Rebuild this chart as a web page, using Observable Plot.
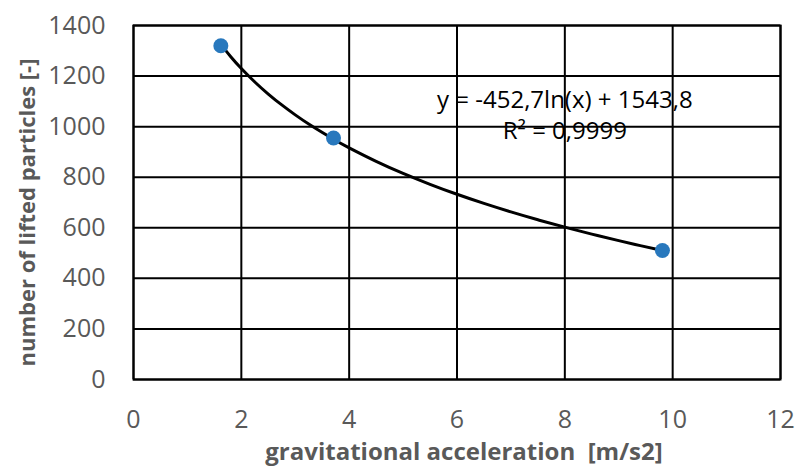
<!DOCTYPE html>
<html>
<head>
<meta charset="utf-8">
<script src="https://cdn.jsdelivr.net/npm/d3@7"></script>
<script src="https://cdn.jsdelivr.net/npm/@observablehq/plot@0.6"></script>
<style>
  html, body { margin: 0; padding: 0; background: #fff; }
  #chart { width: 795px; height: 468px; }
</style>
</head>
<body>
<div id="chart"></div>
<script>
// Data
const gravity = [1.62, 3.71, 9.81];          // m/s2
const liftedParticles = [1320, 955, 510];     // count
// Logarithmic trendline shown in the chart: y = a ln(x) + b
const trendA = -452.7;
const trendB = 1543.8;
const trendSampleX = [1.62, 1.8, 2, 2.25, 2.5, 2.75, 3, 3.3, 3.71, 4, 4.5, 5, 5.5, 6, 6.5, 7, 7.5, 8, 8.5, 9, 9.4, 9.81];
const equationLines = ["y = -452,7ln(x) + 1543,8", "R² = 0,9999"];
const xTicks = [0, 2, 4, 6, 8, 10, 12];
const yTicks = [0, 200, 400, 600, 800, 1000, 1200, 1400];
const xTitle = "gravitational acceleration  [m/s2]";
const yTitle = "number of lifted particles [-]";

const points = gravity.map((g, i) => ({x: g, y: liftedParticles[i]}));
const trend = trendSampleX.map(x => ({x, y: trendA * Math.log(x) + trendB}));
const eq = [
  {x: 8.0, y: 1103, t: equationLines[0]},
  {x: 8.0, y: 981, t: equationLines[1]}
];

const font = "'Open Sans', Lato, sans-serif";

const chart = Plot.plot({
  width: 795,
  height: 468,
  marginLeft: 133,
  marginRight: 15,
  marginTop: 25,
  marginBottom: 89,
  style: {fontFamily: font, fontSize: "24px", background: "#fff"},
  x: {domain: [0, 12], ticks: xTicks},
  y: {domain: [0, 1400], ticks: yTicks},
  marks: [
    Plot.gridX(xTicks, {stroke: "#000", strokeOpacity: 1, strokeWidth: 2}),
    Plot.gridY(yTicks, {stroke: "#000", strokeOpacity: 1, strokeWidth: 2}),
    Plot.frame({stroke: "#000", strokeWidth: 2}),
    Plot.axisX(xTicks, {tickSize: 0, tickPadding: 31, label: null, fill: "#595959", fontSize: 25, tickFormat: d3.format("d")}),
    Plot.axisY(yTicks, {tickSize: 0, tickPadding: 28, label: null, fill: "#595959", fontSize: 25, tickFormat: d3.format("d")}),
    Plot.text([xTitle], {frameAnchor: "bottom", dy: 80, dx: 7, fill: "#595959", fontWeight: "bold", fontSize: 24}),
    Plot.text([yTitle], {frameAnchor: "left", textAnchor: "middle", rotate: -90, dx: -106, dy: 10, fill: "#595959", fontWeight: "bold", fontSize: 22}),
    Plot.line(trend, {x: "x", y: "y", stroke: "#000", strokeWidth: 3, curve: "natural"}),
    Plot.dot(points, {x: "x", y: "y", r: 7.5, fill: "#2878BD", stroke: "none"}),
    Plot.text(eq, {x: "x", y: "y", text: "t", fill: "#000", fontSize: 24})
  ]
});
document.getElementById("chart").appendChild(chart);
</script>
</body>
</html>
